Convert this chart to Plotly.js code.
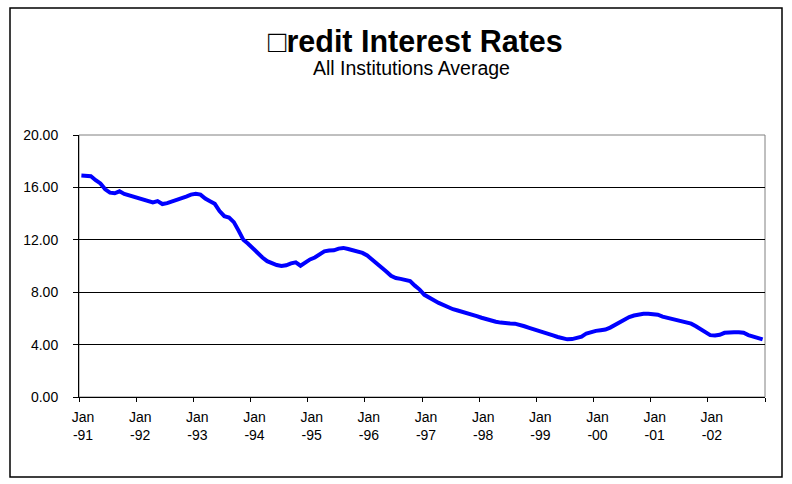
<!DOCTYPE html>
<html>
<head>
<meta charset="utf-8">
<script src="https://cdn.plot.ly/plotly-3.0.1.min.js"></script>
<style>
  html, body { margin: 0; padding: 0; background: #ffffff; }
  #chart { width: 792px; height: 484px; }
</style>
</head>
<body>
<div id="chart"></div>
<script>
// Monthly average credit interest rate (%), Jan-1991 .. Dec-2002
const rates1991 = [16.90, 16.85, 16.85, 16.55, 16.30, 15.85, 15.60, 15.55, 15.70, 15.50, 15.40, 15.25];
const rates1992 = [15.20, 15.10, 15.00, 14.85, 14.95, 14.73, 14.80, 14.92, 15.00, 15.15, 15.30, 15.45];
const rates1993 = [15.52, 15.45, 15.15, 14.95, 14.75, 14.20, 13.80, 13.70, 13.35, 12.70, 12.00, 11.70];
const rates1994 = [11.35, 10.95, 10.65, 10.37, 10.18, 10.07, 10.00, 10.05, 10.20, 10.28, 10.02, 10.30];
const rates1995 = [10.50, 10.65, 10.90, 11.12, 11.18, 11.20, 11.33, 11.38, 11.30, 11.20, 11.14, 11.00];
const rates1996 = [10.80, 10.50, 10.20, 9.95, 9.58, 9.25, 9.08, 9.02, 8.95, 8.85, 8.50, 8.20];
const rates1997 = [7.80, 7.55, 7.38, 7.18, 7.00, 6.85, 6.70, 6.60, 6.50, 6.45, 6.35, 6.18];
const rates1998 = [6.05, 5.93, 5.85, 5.75, 5.68, 5.62, 5.61, 5.60, 5.52, 5.40, 5.28, 5.15];
const rates1999 = [5.05, 4.95, 4.80, 4.70, 4.58, 4.46, 4.40, 4.42, 4.51, 4.60, 4.85, 4.97];
const rates2000 = [5.05, 5.10, 5.15, 5.30, 5.50, 5.75, 5.92, 6.10, 6.22, 6.30, 6.35, 6.35];
const rates2001 = [6.33, 6.28, 6.13, 6.03, 5.94, 5.85, 5.75, 5.68, 5.60, 5.40, 5.15, 4.90];
const rates2002 = [4.72, 4.69, 4.75, 4.90, 4.95, 4.95, 4.95, 4.90, 4.73, 4.60, 4.50, 4.40];

const years = ["91", "92", "93", "94", "95", "96", "97", "98", "99", "00", "01", "02"];
const tickLabels = ["Jan<br>-91", "Jan<br>-92", "Jan<br>-93", "Jan<br>-94", "Jan<br>-95", "Jan<br>-96",
                    "Jan<br>-97", "Jan<br>-98", "Jan<br>-99", "Jan<br>-00", "Jan<br>-01", "Jan<br>-02", ""];

const titleText = "\u25A1redit Interest Rates";
const subtitleText = "All Institutions Average";

const rates = [].concat(rates1991, rates1992, rates1993, rates1994, rates1995, rates1996,
                        rates1997, rates1998, rates1999, rates2000, rates2001, rates2002);
const monthIndex = rates.map((_, i) => i);
const tickVals = [];
for (let k = 0; k <= years.length; k++) tickVals.push(k * 12 - 0.5);

const FONT = '"Liberation Sans", Arial, "DejaVu Sans", sans-serif';

const trace = {
  x: monthIndex,
  y: rates,
  type: 'scatter',
  mode: 'lines',
  line: { color: '#0000FF', width: 4 },
  hoverinfo: 'y'
};

const layout = {
  width: 792,
  height: 484,
  margin: { l: 79, r: 27, t: 135, b: 87 },
  paper_bgcolor: '#ffffff',
  plot_bgcolor: '#ffffff',
  showlegend: false,
  font: { family: FONT, size: 14, color: '#000000' },
  xaxis: {
    range: [-0.5, rates.length - 0.5],
    tickmode: 'array',
    tickvals: tickVals,
    ticktext: tickLabels,
    ticks: 'outside',
    ticklen: 4,
    tickcolor: '#000000',
    tickfont: { family: FONT, size: 14, color: '#000000' },
    ticklabelshift: 4,
    ticklabelstandoff: 3,
    showgrid: false,
    zeroline: false,
    showline: true,
    linecolor: '#000000',
    linewidth: 1,
    fixedrange: true
  },
  yaxis: {
    range: [0, 20],
    tickmode: 'linear',
    tick0: 0,
    dtick: 4,
    tickformat: '.2f',
    ticks: 'outside',
    ticklen: 5,
    tickcolor: '#000000',
    tickfont: { family: FONT, size: 14, color: '#000000' },
    ticklabelstandoff: 12,
    showgrid: true,
    gridcolor: '#000000',
    gridwidth: 1,
    zeroline: false,
    showline: true,
    linecolor: '#000000',
    linewidth: 1,
    fixedrange: true
  },
  shapes: [
    { type: 'rect', xref: 'paper', yref: 'paper', x0: 0, x1: 1, y0: 0, y1: 1,
      line: { color: '#808080', width: 1 }, layer: 'below' },
    { type: 'rect', xref: 'paper', yref: 'paper',
      x0: (10 - 79) / 686, x1: (782 - 79) / 686, y0: (397 - 477) / 262, y1: (397 - 8) / 262,
      line: { color: '#000000', width: 1.5 }, layer: 'below' }
  ],
  annotations: [
    { text: '<b>' + titleText + '</b>', xref: 'paper', yref: 'paper',
      x: (415 - 79) / 686, y: (397 - 41) / 262, xanchor: 'center', yanchor: 'middle',
      showarrow: false, font: { family: FONT, size: 30.5, color: '#000000' } },
    { text: subtitleText, xref: 'paper', yref: 'paper',
      x: (411 - 79) / 686, y: (397 - 68) / 262, xanchor: 'center', yanchor: 'middle',
      showarrow: false, font: { family: FONT, size: 19.5, color: '#000000' } }
  ]
};

Plotly.newPlot('chart', [trace], layout, { staticPlot: true, displayModeBar: false });
</script>
</body>
</html>
